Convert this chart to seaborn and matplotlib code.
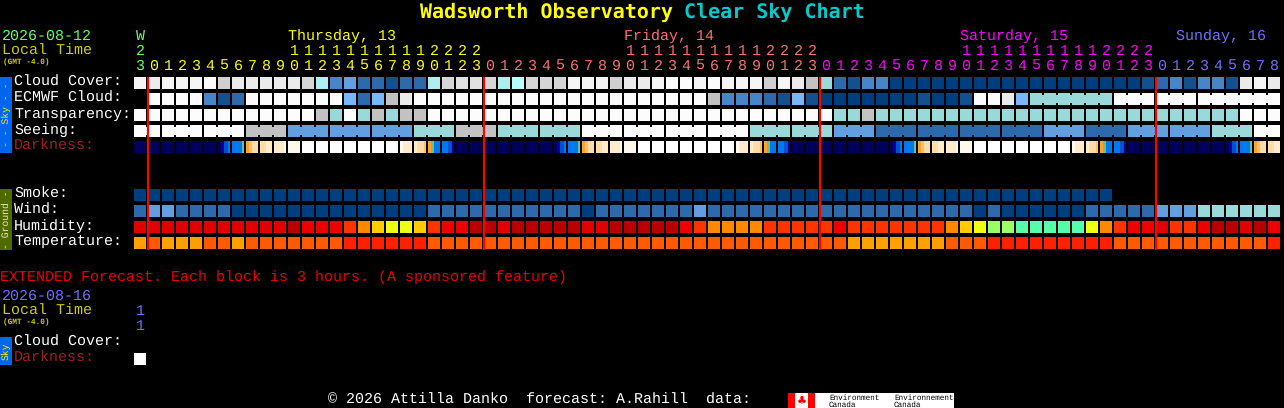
import numpy as np
import pandas as pd
import matplotlib
matplotlib.use('Agg')
import matplotlib.pyplot as plt
from matplotlib.colors import ListedColormap
from matplotlib.patches import Rectangle
from matplotlib.transforms import blended_transform_factory
import seaborn as sns

W, H = 1284, 408
nan = float('nan')

# colour levels shared by the sky and ground rows
levels = ['#003f7f', '#13508f', '#2c6aab', '#4585c8', '#629fe0', '#78b8f8',
          '#aeeeee', '#b8ffff', '#c2c2c2', '#cfcfcf', '#d6d6d6', '#e0e0e0',
          '#ebebeb', '#f5f5f5', '#fcfcfc', '#99d9d9',
          '#b80000', '#e00000', '#ee0000', '#ff3300', '#ff8800', '#ffcc00',
          '#eeff11', '#99ff66', '#55ffaa',
          '#ffa000', '#ff5a00', '#ff2000']
dark_levels = ['#00005c', '#0000a0', '#0050d0', '#0078f0', '#70c080', '#ffa428',
               '#ffc070', '#ffdca8', '#ffeccc', '#fff8ec', '#ffffff']

hours = [23, 0, 1, 2, 3, 4, 5, 6, 7, 8, 9, 10, 11, 12, 13, 14, 15, 16, 17, 18, 19, 20, 21, 22, 23,
         0, 1, 2, 3, 4, 5, 6, 7, 8, 9, 10, 11, 12, 13, 14, 15, 16, 17, 18, 19, 20, 21, 22, 23,
         0, 1, 2, 3, 4, 5, 6, 7, 8, 9, 10, 11, 12, 13, 14, 15, 16, 17, 18, 19, 20, 21, 22, 23,
         0, 1, 2, 3, 4, 5, 6, 7, 8]
hour_colors = ['#66ff66'] + ['#ffff00'] * 24 + ['#ff7070'] * 24 + ['#ff00ff'] * 24 + ['#7070ff'] * 9
day_names = ['Thursday, 13', 'Friday, 14', 'Saturday, 15', 'Sunday, 16']
day_cols = [11.1, 35.1, 59.1, 74.5]
day_colors = ['#ffff00', '#ff7070', '#ff00ff', '#7070ff']

cloud_cover = [13, 12, 13, 13, 13, 14, 9, 12, 12, 12, 12, 12, 10, 6, 3, 4, 2, 2, 1, 2, 2,
               6, 10, 11, 11, 10, 6, 7, 10, 10, 10, 13, 13, 13, 9, 12, 12, 13, 14, 14, 13, 14, 13, 13, 13,
               9, 13, 12, 8, 15, 2, 1, 3, 3,
               0, 0, 0, 0, 0, 0, 0, 0, 0, 0, 0, 0, 0, 0, 0, 0, 0, 0,
               1, 2, 3, 1, 3, 3, 1, 12, 13, 12]
ecmwf_cloud = [nan, 14, 14, 14, 14, 3, 1, 2, 14, 14, 14, 14, 14, 14, 14, 5, 2, 5, 8, 12,
               14, 14, 14, 14, 14, 14, 14, 14, 14, 14, 14, 14, 14, 14, 14, 14, 14, 14, 14, 14, 14,
               8, 3, 3, 3, 2, 1, 5, 1, 0, 0, 0, 0, 0, 0, 0, 1, 0, 0, 1, 14, 14, 12, 5,
               15, 15, 15, 15, 15, 15, 14, 14, 14, 14, 14, 14, 14, 14, 14, 14, 14, 14]
transparency = [14, 14, 14, 14, 14, 14, 14, 14, 14, 14, 14, 14, 14, 8, 15, 14, 15, 8, 15, 8, 8,
                14, 14, 14, 14, 14, 14, 14, 14, 14, 14, 14, 14, 14, 14, 14, 14, 14, 14, 14, 14, 14,
                14, 14, 14, 14, 14, 14, 14, 14, 15, 15, 8,
                15, 15, 15, 15, 15, 15, 15, 15, 15, 15, 15, 15, 15, 15, 15, 15, 15, 15, 15, 15, 15, 15,
                15, 15, 15, 15, 14, 14, 14]
seeing = [14, 14, 14, 14, 14, 14, 14, 14, 8, 8, 8, 4, 4, 4, 4, 4, 4, 4, 4, 4, 15, 15, 15, 8, 8, 8,
          15, 15, 15, 15, 15, 15, 14, 14, 14, 14, 14, 14, 14, 14, 14, 14, 14, 14,
          15, 15, 15, 15, 15, 15, 4, 4, 4, 2, 2, 2, 2, 2, 2, 2, 2, 2, 2, 2, 2,
          4, 4, 4, 2, 2, 2, 4, 4, 4, 4, 4, 4, 15, 15, 15, 14, 14]
smoke = [0, 0, 0, 0, 0, 0, 0, 0, 0, 0, 0, 0, 0, 0, 0, 0, 0, 0, 0, 0, 0, 0, 0, 0, 0, 0, 0, 0, 0, 0,
         0, 0, 0, 0, 0, 0, 0, 0, 0, 0, 0, 0, 0, 0, 0, 0, 0, 0, 0, 0, 0, 0, 0, 0, 0, 0, 0, 0, 0, 0,
         0, 0, 0, 0, 0, 0, 0, 0, 0, 0, nan, nan, nan, nan, nan, nan, nan, nan, nan, nan, nan, nan]
wind = [2, 4, 4, 2, 2, 2, 2, 0, 0, 0, 0, 0, 0, 0, 0, 0, 0, 0, 0, 0, 0,
        2, 2, 2, 2, 2, 2, 2, 2, 2, 2, 2, 0, 2, 2, 2, 2, 2, 2, 2, 4,
        2, 2, 2, 2, 2, 2, 2, 2, 2, 2, 2, 2, 2, 2, 2, 2, 2, 2, 2, 0, 2,
        0, 0, 0, 0, 0, 0, 2, 2, 2, 2, 2, 4, 4, 4, 15, 15, 15, 15, 15, 15]
humidity = [17, 17, 17, 17, 17, 17, 17, 17, 17, 17, 17, 16, 18, 18, 18, 19, 20, 21, 22, 22, 21,
            19, 18, 18, 16, 16, 17, 16, 16, 16, 16, 16, 17, 17, 16, 16, 16, 16, 16, 18, 19,
            20, 20, 20, 20, 19, 19, 19, 19, 19, 18, 19,
            19, 19, 19, 19, 19, 19, 20, 21, 22, 23, 23, 24, 24, 24, 24, 24, 22, 20, 19,
            18, 18, 17, 19, 19, 18, 16, 16, 17, 16, 18]
temperature = [25, 26, 25, 25, 25, 26, 26, 25, 26, 26, 26, 26, 26, 26, 26, 27, 27, 27, 27, 27, 27,
               26, 26, 26, 26, 26, 26, 26, 26, 26, 26, 26, 26, 26, 26, 26, 26, 26, 26, 26, 26,
               26, 26, 26, 26, 26, 26, 26, 26, 26, 26, 25,
               25, 25, 25, 25, 25, 25, 26, 26, 26, 27, 27, 27, 27, 27, 27, 27, 27, 27,
               26, 26, 26, 26, 26, 26, 26, 26, 26, 26, 26, 27]
# four samples across every darkness block, hex digit = index in dark_levels
darkness = ['0000', '0000', '0000', '0000', '0000', '0000', '0123', '3334', '5677', '7788', '8889', '9999',
            'aaaa', 'aaaa', 'aaaa', 'aaaa', 'aaaa', 'aaaa', 'aaa9', '9888', '8776', '5433', '3321', '0000',
            '0000', '0000', '0000', '0000', '0000', '0000', '0123', '3334', '5677', '7788', '8889', '9999',
            'aaaa', 'aaaa', 'aaaa', 'aaaa', 'aaaa', 'aaaa', 'aaa9', '9888', '8776', '5433', '3321', '0000',
            '0000', '0000', '0000', '0000', '0000', '0000', '0123', '3334', '5677', '7788', '8889', '9999',
            'aaaa', 'aaaa', 'aaaa', 'aaaa', 'aaaa', 'aaaa', 'aaa9', '9888', '8776', '5433', '3321', '0000',
            '0000', '0000', '0000', '0000', '0000', '0000', '0123', '3334', '5677', '7788']
blank = [nan] * len(hours)

row_labels = ['Cloud Cover:', 'ECMWF Cloud:', 'Transparency:', 'Seeing:', 'Darkness:',
              '', '', 'Smoke:', 'Wind:', 'Humidity:', 'Temperature:']
label_colors = ['white', 'white', 'white', 'white', '#a02020',
                'white', 'white', 'white', 'white', 'white', 'white']
# lengths of the 3 hour blocks drawn joined together
seeing_blocks = [2, 3, 3, 3, 3, 3, 3, 3, 3, 3, 3, 3, 3, 3, 3, 3, 3, 3, 3, 3, 3, 3, 3, 3, 3, 3, 3, 2]
ecmwf_blocks = [(64, 6), (70, 3), (73, 3), (76, 6)]
midnights = [1, 25, 49, 73]

sns.set_theme(style='white', rc={'figure.facecolor': 'black', 'axes.facecolor': 'black',
                                 'savefig.facecolor': 'black'})
plt.rcParams['font.family'] = ['Liberation Mono', 'DejaVu Sans Mono']
plt.rcParams['text.hinting'] = 'no_hinting'
FS = 15 * 72 / 100


def axes_px(fig, x0, y0, x1, y1):
    return fig.add_axes([x0 / W, 1 - y1 / H, (x1 - x0) / W, (y1 - y0) / H])


def label(x, y, s, color='white', size=FS, **kw):
    # y is the text baseline in pixels from the top
    kw.setdefault('va', 'baseline')
    fig.text(x / W, 1 - y / H, s, color=color, fontsize=size, **kw)


def bar(x0, y0, x1, y1, color):
    fig.add_artist(Rectangle((x0 / W, 1 - y1 / H), (x1 - x0) / W, (y1 - y0) / H,
                             transform=fig.transFigure, color=color, lw=0))


fig = plt.figure(figsize=(W / 100, H / 100), dpi=100, facecolor='black')

# darkness row has gradients inside the blocks, so it is its own heatmap
dark_ax = axes_px(fig, 133, 139, 1281, 155)
dark_ax.set_zorder(0)
dark_vals = np.array([[int(c, 16) for cell in darkness for c in cell]], dtype=float)
sns.heatmap(dark_vals, cmap=ListedColormap(dark_levels), vmin=-0.5, vmax=len(dark_levels) - 0.5,
            cbar=False, xticklabels=False, yticklabels=False, ax=dark_ax)
dark_ax.vlines(np.arange(len(darkness) + 1) * 4, 0, 1, color='black', lw=1.44)
dark_ax.hlines([0, 1], 0, dark_vals.shape[1], color='black', lw=2.88)

table = pd.DataFrame([cloud_cover, ecmwf_cloud, transparency, seeing, blank, blank, blank,
                      smoke, wind, humidity, temperature], index=row_labels)
ax = axes_px(fig, 133, 75, 1281, 251)
ax.set_zorder(1)
sns.heatmap(table, cmap=ListedColormap(levels), vmin=-0.5, vmax=len(levels) - 0.5, cbar=False,
            xticklabels=[h % 10 for h in hours], yticklabels=row_labels, ax=ax)
ax.patch.set_alpha(0)

n_cols, n_rows = table.shape[1], table.shape[0]
ax.vlines(np.arange(n_cols + 1), 0, n_rows, color='black', lw=1.44)
ax.hlines(np.arange(n_rows + 1), 0, n_cols, color='black', lw=2.88)


def join(row, start, length):
    # little bridges over the gaps inside a joined block
    for c in range(start + 1, start + length):
        ax.add_patch(Rectangle((c - 1.5 / 14, row + 0.25), 3 / 14, 0.5, lw=0, zorder=3,
                               color=levels[int(table.iloc[row, c])]))


col = 0
for length in seeing_blocks:
    join(3, col, length)
    col += length
for start, length in ecmwf_blocks:
    join(1, start, length)

ax.vlines(np.array(midnights) + 1 / 14, 2 / 16, n_rows - 1 / 16, color='#ff0000', lw=1.6,
          zorder=5, capstyle='butt')

ax.xaxis.tick_top()
ax.tick_params(axis='both', length=0, labelbottom=False, labeltop=True)
ax.tick_params(axis='x', pad=3.6, labelsize=FS, labelrotation=0)
# row names stand on a baseline just above the bottom of their blocks
ax.set_yticks(np.arange(n_rows) + 0.66, row_labels)
ax.tick_params(axis='y', pad=85.7, labelsize=FS, labelrotation=0)
for t, c in zip(ax.get_xticklabels(), hour_colors):
    t.set_color(c)
    t.set_va('baseline')
for t, c in zip(ax.get_yticklabels(), label_colors):
    t.set_color(c)
    t.set_ha('left')
    t.set_va('baseline')

# tens digits and day names above the hour row
trans = blended_transform_factory(ax.transData, fig.transFigure)
for i, h in enumerate(hours):
    if h >= 10:
        ax.text(i + 0.5, 1 - 55 / H, str(h // 10), color=hour_colors[i], fontsize=FS,
                ha='center', va='baseline', transform=trans, clip_on=False)
for name, c, color in zip(day_names, day_cols, day_colors):
    ax.text(c, 1 - 40 / H, name, color=color, fontsize=FS, va='baseline', transform=trans, clip_on=False)
ax.text(0.5, 1 - 40 / H, 'W', color='#66ff66', fontsize=FS, ha='center', va='baseline',
        transform=trans, clip_on=False)

# title
label(420, 12, 'Wadsworth Observatory', '#ffff00', 20 * 72 / 100, family='DejaVu Sans Mono',
      weight='bold', va='center')
label(684, 12, 'Clear Sky Chart', '#00cccc', 20 * 72 / 100, family='DejaVu Sans Mono',
      weight='bold', va='center')

# left header
label(2, 40, '2026-08-12', '#66ff66')
label(2, 55, 'Local Time', '#cccc00')
label(3, 64, '(GMT -4.0)', '#cccc00', 5.6, weight='bold')

# side bars
bar(0, 77, 12, 153, '#0066ee')
label(6, 115, '- - Sky - -', '#ffee00', 7, rotation=90, ha='center', va='center')
bar(0, 189, 12, 250, '#4f6b00')
label(6, 219.5, '- Ground -', '#e8e8c0', 7, rotation=90, ha='center', va='center')

# extended forecast block
label(0, 281, 'EXTENDED Forecast. Each block is 3 hours. (A sponsored feature)', '#ee0000')
label(2, 300, '2026-08-16', '#7070ff')
label(2, 315, 'Local Time', '#cccc00')
label(3, 324, '(GMT -4.0)', '#cccc00', 5.6, weight='bold')
label(14, 346, 'Cloud Cover:', 'white')
label(14, 362, 'Darkness:', '#a02020')
bar(0, 337, 12, 365, '#0066ee')
label(6, 351, 'Sky', '#ffee00', 7, rotation=90, ha='center', va='center')

ext_ax = axes_px(fig, 133, 335, 147, 367)
sns.heatmap(pd.DataFrame([[nan], [10.0]]), cmap=ListedColormap(dark_levels), vmin=-0.5,
            vmax=len(dark_levels) - 0.5, cbar=False, xticklabels=False, yticklabels=False, ax=ext_ax)
ext_ax.vlines([0, 1], 0, 2, color='black', lw=1.44)
ext_ax.hlines([0, 1, 2], 0, 1, color='black', lw=2.88)
ext_trans = blended_transform_factory(ext_ax.transData, fig.transFigure)
ext_ax.text(0.5, 1 - 315 / H, '1', color='#7070ff', fontsize=FS, ha='center', va='baseline',
            transform=ext_trans, clip_on=False)
ext_ax.text(0.5, 1 - 330 / H, '1', color='#7070ff', fontsize=FS, ha='center', va='baseline',
            transform=ext_trans, clip_on=False)

# footer
label(328, 404, '\u00a9 2026 Attilla Danko  forecast: A.Rahill  data:', 'white')
bar(788, 393, 954, 408, 'white')
bar(788, 393, 795, 408, '#ff0000')
bar(808, 393, 815, 408, '#ff0000')
fig.text(801.5 / W, 1 - 400.5 / H, '\u2663', color='#ff0000', fontsize=8, ha='center', va='center',
         family='DejaVu Sans')
label(829, 400, 'Environment', 'black', 5.5)
label(829, 407, 'Canada', 'black', 5.5)
label(894, 400, 'Environnement', 'black', 5.5)
label(894, 407, 'Canada', 'black', 5.5)

fig.savefig('out.png', dpi=100, facecolor='black')
